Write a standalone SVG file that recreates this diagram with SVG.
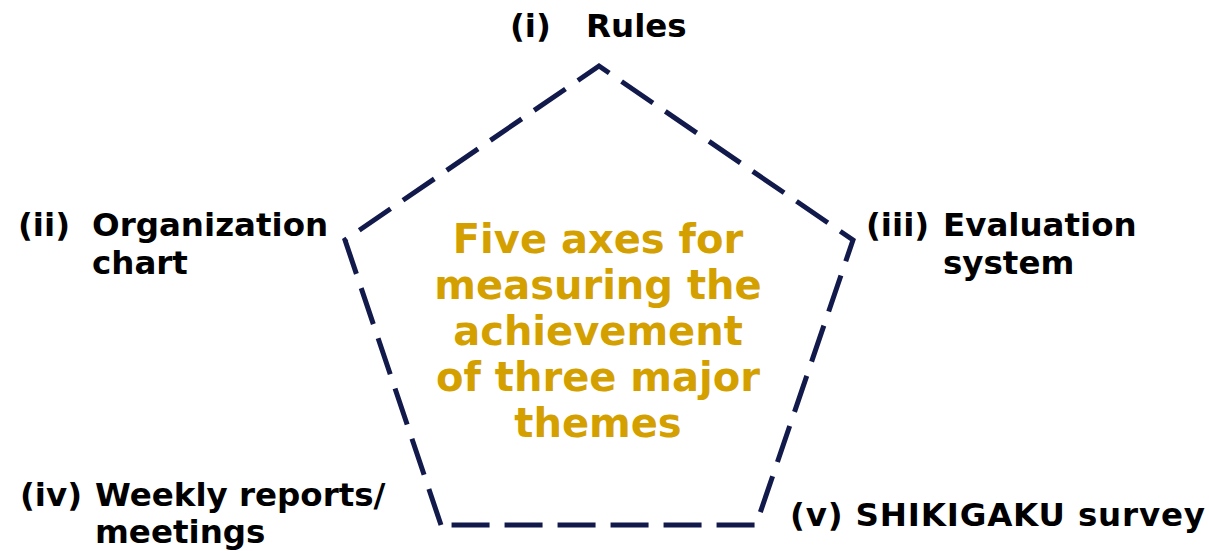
<svg xmlns="http://www.w3.org/2000/svg" width="1209" height="551" viewBox="0 0 1209 551">
<style>
.lbl{font-family:"DejaVu Sans",Verdana,sans-serif;font-weight:bold;font-size:32.5px;fill:#000}
.ctr{font-family:"DejaVu Sans",Verdana,sans-serif;font-weight:bold;font-size:40px;fill:#d4a000;text-anchor:middle}
.pent{fill:none;stroke:#111a4b;stroke-width:5;stroke-dasharray:38 15;stroke-linejoin:miter}
</style>
<rect width="1209" height="551" fill="#fff"/>
<g id="connectors">
<path class="pent" d="M441,525 L345,240 L599,66 L853,240 L756,525 Z"/>
</g>
<g id="center"><text class="ctr"><tspan x="598" y="253">Five axes for</tspan><tspan x="598" y="299">measuring the</tspan><tspan x="598" y="345">achievement</tspan><tspan x="598" y="391">of three major</tspan><tspan x="598" y="437">themes</tspan></text></g>
<g id="n1"><text class="lbl" x="510" y="37">(i)<tspan x="586">Rules</tspan></text></g>
<g id="n2"><text class="lbl" x="18" y="236">(ii)<tspan x="92">Organization</tspan><tspan x="92" y="274">chart</tspan></text></g>
<g id="n3"><text class="lbl" x="866" y="236">(iii)<tspan x="943">Evaluation</tspan><tspan x="943" y="274">system</tspan></text></g>
<g id="n4"><text class="lbl" x="20" y="506">(iv)<tspan x="95">Weekly reports/</tspan><tspan x="95" y="543">meetings</tspan></text></g>
<g id="n5"><text class="lbl" x="790" y="526" textLength="415" lengthAdjust="spacing">(v) SHIKIGAKU survey</text></g>
</svg>
